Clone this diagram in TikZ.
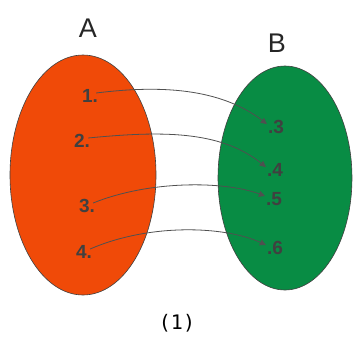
\documentclass[tikz,border=0pt]{standalone}
\usepackage{fontspec}
\setmainfont{Liberation Sans}
\newfontfamily\monof{DejaVu Sans Mono}
\usetikzlibrary{arrows.meta}
\definecolor{setred}{RGB}{240,74,8}
\definecolor{setgreen}{RGB}{8,140,68}
\definecolor{linegray}{RGB}{80,80,80}
\tikzset{
  setshape/.style={draw=black!75,line width=0.6pt},
  elem/.style={font=\bfseries\fontsize{19}{19}\selectfont, text=black!75, inner sep=0pt},
  title/.style={font=\fontsize{27}{27}\selectfont, text=black!85, inner sep=0pt},
  link/.style={draw=linegray, line width=0.8pt, -{Triangle[length=6pt,width=6pt]}}
}
\begin{document}
\begin{tikzpicture}[x=1pt,y=-1pt]
\useasboundingbox[fill=white] (0,0) rectangle (354,341);
\fill[setred, setshape] (83,175) ellipse [x radius=73, y radius=120];
\fill[setgreen, setshape] (285,178) ellipse [x radius=67, y radius=112];
\node[title] (A) at (88,28) {A};
\node[title] (B) at (277,43) {B};
\node[font=\monof\fontsize{20}{20}\selectfont, inner sep=0pt] (cap) at (177,323) {(1)};
% left elements
\node[elem] (a1) at (90,96) {1.};
\node[elem] (a2) at (82,141) {2.};
\node[elem] (a3) at (87,206) {3.};
\node[elem] (a4) at (84,252) {4.};
% right elements
\node[elem] (b3) at (276,127) {.3};
\node[elem] (b4) at (275,170) {.4};
\node[elem] (b5) at (274,199) {.5};
\node[elem] (b6) at (275,248) {.6};
\coordinate (t3) at ([xshift=-1pt,yshift=3pt]b3.west);
\coordinate (t4) at ([xshift=-1pt,yshift=3pt]b4.west);
\coordinate (t5) at ([xshift=-1pt,yshift=3pt]b5.west);
\coordinate (t6) at ([xshift=-1pt,yshift=3pt]b6.west);
\coordinate (s1) at ([xshift=-2pt,yshift=3pt]a1.east);
\coordinate (s2) at ([xshift=-2pt,yshift=3pt]a2.east);
\coordinate (s3) at ([xshift=-2pt,yshift=3pt]a3.east);
\coordinate (s4) at ([xshift=-2pt,yshift=3pt]a4.east);
\draw[link] (s1) .. controls (160,85) and (220,88) .. (t3);
\draw[link] (s2) .. controls (160,131) and (220,130) .. (t4);
\draw[link] (s3) .. controls (150,180) and (225,181) .. (t5);
\draw[link] (s4) .. controls (150,223) and (225,226) .. (t6);
\end{tikzpicture}
\end{document}
